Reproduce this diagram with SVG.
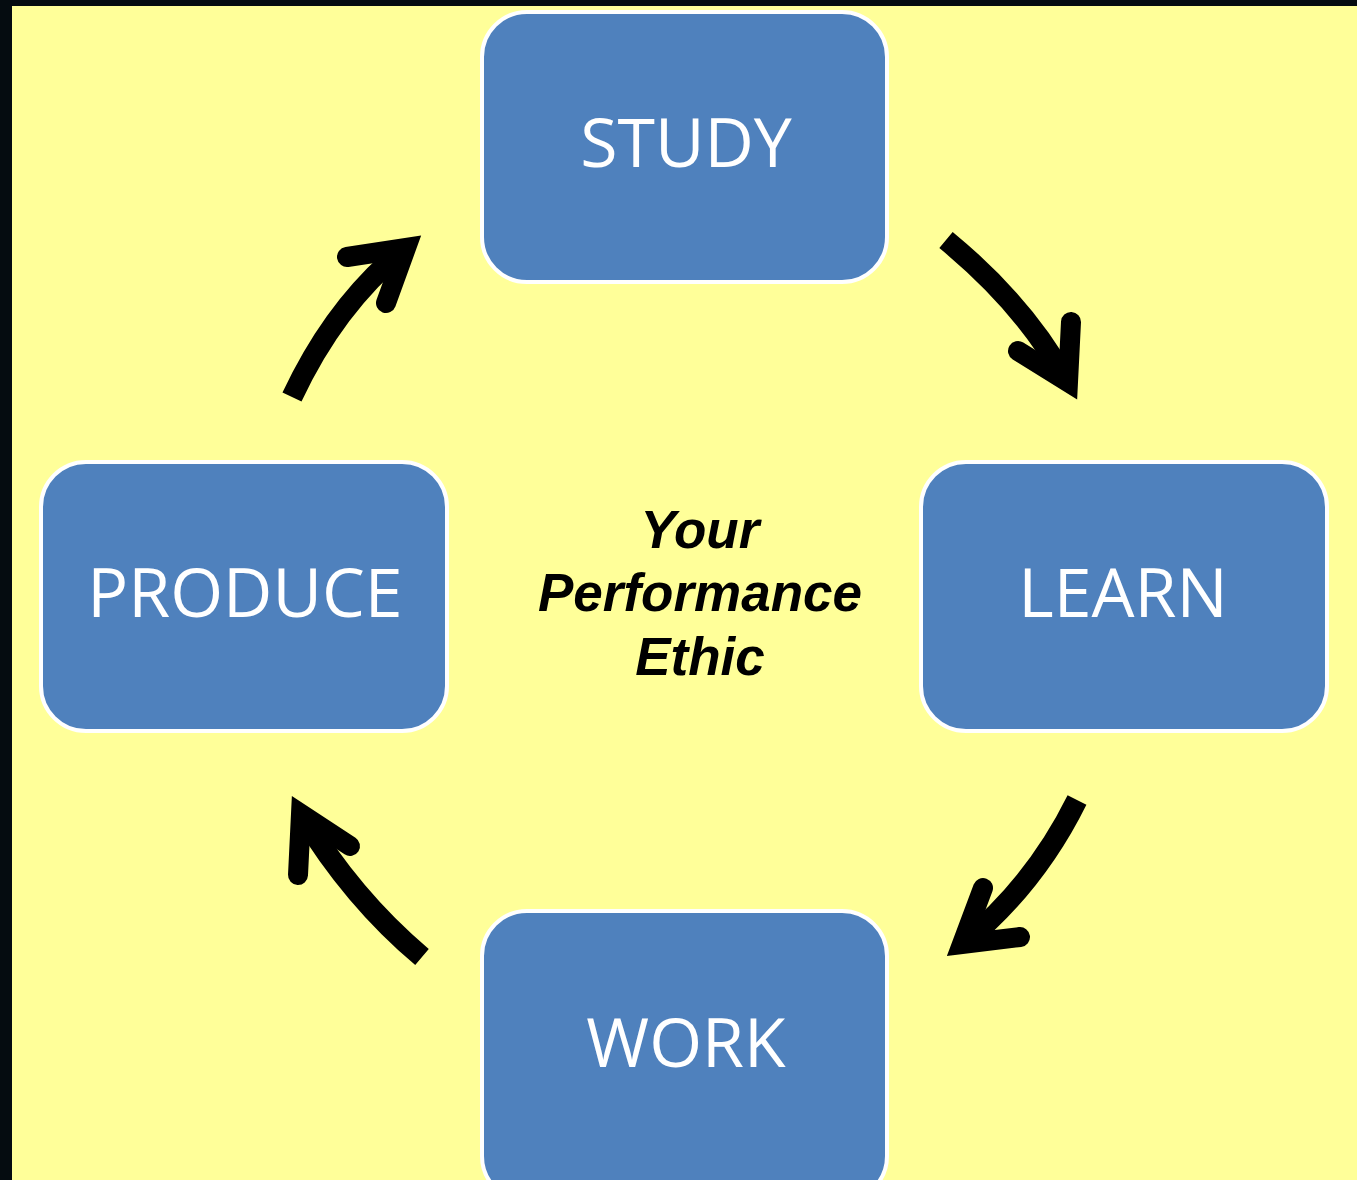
<svg xmlns="http://www.w3.org/2000/svg" width="1357" height="1180" viewBox="0 0 1357 1180">
<style>
.box{fill:#4f81bd;stroke:#ffffff;stroke-width:4}
.lbl{font-family:"Open Sans","Liberation Sans",sans-serif;font-size:68px;fill:#ffffff;text-anchor:middle}
.ctr{font-family:"Liberation Sans",Arial,sans-serif;font-size:53px;font-weight:bold;font-style:italic;fill:#000000;text-anchor:middle}
.shaft{fill:none;stroke:#000;stroke-width:21;stroke-linecap:butt}
.head{fill:none;stroke:#000;stroke-width:20;stroke-linecap:round;stroke-linejoin:miter;stroke-miterlimit:6}
</style>
<rect x="0" y="0" width="1357" height="1180" fill="#050c10"/>
<rect x="12" y="6" width="1345" height="1174" fill="#ffff99"/>
<g id="study"><rect class="box" x="482" y="12" width="405" height="270" rx="45"/><text class="lbl" x="686" y="167">STUDY</text></g>
<g id="learn"><rect class="box" x="921" y="462" width="406" height="269" rx="45"/><text class="lbl" x="1123" y="617">LEARN</text></g>
<g id="produce"><rect class="box" x="41" y="462" width="406" height="269" rx="45"/><text class="lbl" x="245" y="617">PRODUCE</text></g>
<g id="work"><rect class="box" x="482" y="911" width="405" height="290" rx="45"/><text class="lbl" x="686" y="1067">WORK</text></g>
<g id="center"><text class="ctr" x="700" y="548">Your</text><text class="ctr" x="700" y="611">Performance</text><text class="ctr" x="700" y="675">Ethic</text></g>
<g id="connectors">
<path class="shaft" d="M946,240 Q1025,305 1066,380"/>
<path class="head" d="M1071,322 L1068,382 L1018,351"/>
<path class="shaft" d="M1077,800 Q1035,885 963,944"/>
<path class="head" d="M983,888 L962,944 L1020,937"/>
<path class="shaft" d="M422,957 Q352,898 302,815"/>
<path class="head" d="M298,875 L301,814 L350,846"/>
<path class="shaft" d="M292,397 Q335,305 404,249"/>
<path class="head" d="M347,257 L406,248 L386,303"/>
</g>
</svg>
